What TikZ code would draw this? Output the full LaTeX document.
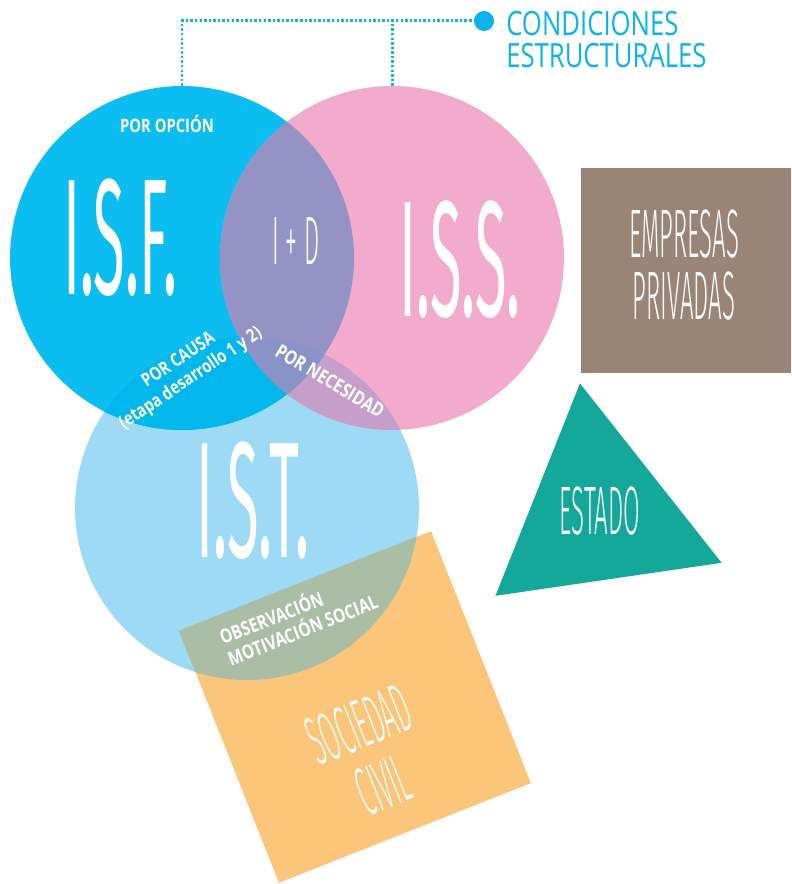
\documentclass[tikz,border=0pt]{standalone}
\usepackage{fontspec}
\usetikzlibrary{positioning,shapes.geometric}

\newfontfamily\handfont{Fira Sans}
\newfontfamily\thinfont{Fira Sans Light}
\newfontfamily\labfont{Open Sans}

\definecolor{isfblue}{HTML}{0BBDF0}
\definecolor{isspink}{HTML}{F3ABCD}
\definecolor{istblue}{HTML}{9DDAF6}
\definecolor{isfist}{HTML}{02B7EC}
\definecolor{isfiss}{HTML}{9593C6}
\definecolor{issist}{HTML}{C59FCA}
\definecolor{triple}{HTML}{8A93C8}
\definecolor{istsoc}{HTML}{A9BEA5}
\definecolor{socorange}{HTML}{FBC67A}
\definecolor{empbrown}{HTML}{9A8476}
\definecolor{estteal}{HTML}{14A89B}
\definecolor{lineblue}{HTML}{0AB4EA}

\tikzset{
  venn/.style={circle, inner sep=0pt, minimum size=6.88cm},
  bigtxt/.style={text=white, inner sep=0pt, xscale=0.35, font=\handfont\fontsize{94}{94}\selectfont},
  midtxt/.style={text=white, inner sep=0pt, align=center, xscale=0.35, font=\thinfont\fontsize{39}{35}\selectfont},
  smalltxt/.style={text=white, inner sep=0pt, align=center, xscale=0.8, font=\labfont\bfseries\fontsize{10.5}{12.5}\selectfont},
  condtxt/.style={text=lineblue, inner sep=0pt, align=left, xscale=0.77, font=\labfont\fontsize{19}{18.2}\selectfont},
  dotline/.style={draw=lineblue, line width=1.7pt, dash pattern=on 1.4pt off 1.2pt},
}

\begin{document}
\begin{tikzpicture}[x=0.02cm, y=0.02cm]
  \useasboundingbox (0,0) rectangle (791,-884);

  % Define nodes
  \node[venn, fill=istblue] (ist) at (247,-508) {};
  \node[venn, fill=isfblue] (isf) at (182,-258) {};
  \node[venn, fill=isspink] (iss) at (392,-258) {};

  % overlaps
  \begin{scope}
    \clip (iss.center) circle (172);
    \fill[issist] (ist.center) circle (172);
  \end{scope}
  \begin{scope}
    \clip (isf.center) circle (172);
    \fill[isfist] (ist.center) circle (172);
    \fill[isfiss] (iss.center) circle (172);
    \clip (iss.center) circle (172);
    \fill[triple] (ist.center) circle (172);
  \end{scope}

  \node[rectangle, fill=socorange, inner sep=0pt, minimum size=5.42cm, rotate=21.6] (soc) at (355,-707) {};
  \begin{scope}
    \clip (soc.north west) -- (soc.north east) -- (soc.south east) -- (soc.south west) -- cycle;
    \fill[istsoc] (ist.center) circle (172);
  \end{scope}

  \node[rectangle, fill=empbrown, minimum width=4.2cm, minimum height=4.1cm] (emp) at (686,-270.5) {};
  \node[regular polygon, regular polygon sides=3, shape border rotate=8.3, minimum size=5.28cm, fill=estteal] (est) at (599,-514) {};

  % Labels
  \node[midtxt] (emplab) at (684,-265) {EMPRESAS\\PRIVADAS};
  \node[midtxt] (estlab) at (600,-511) {ESTADO};
  \node[rotate=21.6, midtxt, font=\thinfont\fontsize{39}{37}\selectfont] (soclab) at (371,-755) {SOCIEDAD\\CIVIL};

  \node[bigtxt] (isflab) at (120,-238) {I.S.F.};
  \node[bigtxt] (isslab) at (460,-260) {I.S.S.};
  \node[bigtxt] (istlab) at (253,-501) {I.S.T.};
  \node[midtxt] (idlab) at (296,-241) {I + D};

  \node[smalltxt, anchor=base] (opcion) at (167,-133) {POR OPCIÓN};
  \node[rotate=34, smalltxt] (causa) at (185,-370) {POR CAUSA\\(etapa desarrollo 1 y 2)};
  \node[rotate=-31, smalltxt, font=\labfont\bfseries\fontsize{11}{13}\selectfont] (necesidad) at (330,-381) {POR NECESIDAD};
  \node[rotate=21.6, smalltxt, align=left, font=\labfont\bfseries\fontsize{11}{13}\selectfont] (motiv) at (298,-618) {OBSERVACIÓN\\MOTIVACIÓN SOCIAL};

  \node[circle, fill=lineblue, inner sep=0pt, minimum size=0.4cm] (cdot) at (484,-21) {};
  \node[condtxt, anchor=north west] (cond) at (506,-11) {CONDICIONES\\ESTRUCTURALES};

  % Connect the nodes
  \draw[dotline] (isf.north) |- (cdot);
  \draw[dotline] (iss.north) -- (iss.north |- cdot);
\end{tikzpicture}
\end{document}
